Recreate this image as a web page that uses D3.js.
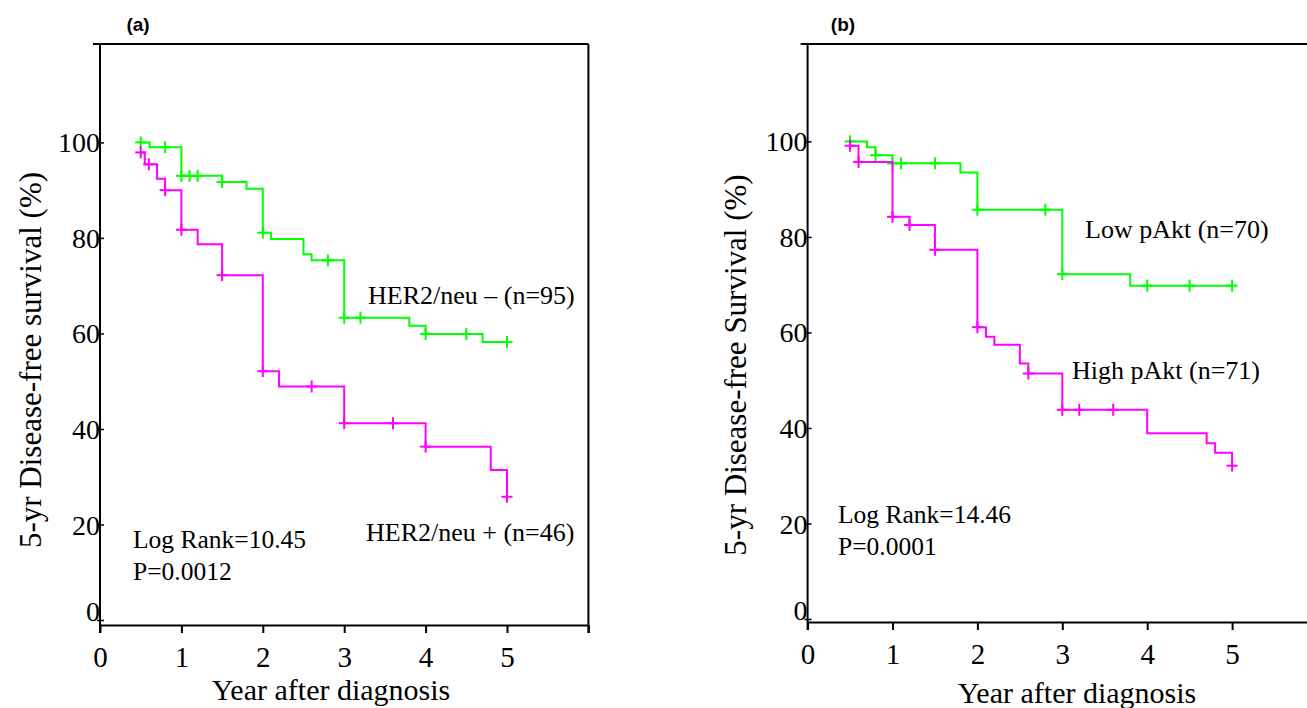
<!DOCTYPE html>
<html>
<head>
<meta charset="utf-8">
<script src="https://cdn.jsdelivr.net/npm/d3@7"></script>
<style>
  html, body { margin: 0; padding: 0; background: #fff; }
  svg { display: block; }
</style>
</head>
<body>
<svg id="chart" width="1307" height="708"></svg>
<script>
// ---------- data ----------
const yearTicks = [0, 1, 2, 3, 4, 5, 6];
const yearLabels = ["0", "1", "2", "3", "4", "5", ""];
const survTicks = [0, 20, 40, 60, 80, 100];

// Panel (a): HER2/neu
const herNegTimes = [0.5, 0.61, 1.0, 1.5, 1.8, 2.0, 2.1, 2.5, 2.6, 3.0, 3.8, 4.0, 4.7, 5.0];
const herNegSurv  = [100, 99.0, 93.0, 91.7, 90.3, 81.1, 79.8, 76.6, 75.3, 63.3, 61.6, 59.9, 58.2, 58.2];
const herNegCens  = [0.5, 0.8, 1.0, 1.1, 1.2, 1.5, 2.0, 2.8, 3.0, 3.2, 4.0, 4.5, 5.0];

const herPosTimes = [0.5, 0.55, 0.7, 0.8, 1.0, 1.2, 1.5, 2.0, 2.2, 3.0, 4.0, 4.8, 5.0];
const herPosSurv  = [97.9, 95.4, 92.4, 90.0, 81.7, 78.7, 72.2, 52.1, 48.9, 41.2, 36.3, 31.4, 25.8];
const herPosCens  = [0.5, 0.6, 0.8, 1.0, 1.5, 2.0, 2.6, 3.0, 3.6, 4.0, 5.0];

// Panel (b): pAkt
const lowTimes = [0.5, 0.7, 0.8, 1.0, 1.8, 2.0, 3.0, 3.8, 5.0];
const lowSurv  = [100, 98.8, 97.1, 95.4, 93.5, 85.7, 72.2, 69.8, 69.8];
const lowCens  = [0.5, 0.8, 1.0, 1.1, 1.5, 2.0, 2.8, 3.0, 4.0, 4.5, 5.0];

const highTimes = [0.5, 0.6, 1.0, 1.2, 1.5, 2.0, 2.1, 2.2, 2.5, 2.6, 3.0, 4.0, 4.7, 4.8, 5.0];
const highSurv  = [99.1, 95.7, 84.2, 82.5, 77.3, 61.1, 59.1, 57.4, 53.5, 51.4, 43.8, 38.9, 36.8, 34.8, 32.1];
const highCens  = [0.5, 0.6, 1.0, 1.2, 1.5, 2.0, 2.6, 3.0, 3.2, 3.6, 5.0];

const GREEN = "#00ff00";
const MAGENTA = "#ff00ff";
const SERIF = "'Liberation Serif', 'Times New Roman', serif";
const SANS = "'Liberation Sans', Arial, sans-serif";

const svg = d3.select("#chart");

function survAt(times, surv, t) {
  let v = surv[0];
  for (let i = 0; i < times.length; i++) { if (times[i] <= t + 1e-9) v = surv[i]; }
  return v;
}

function panel(cfg) {
  const x = d3.scaleLinear().domain([0, 6]).range([cfg.x0, cfg.x0 + 6 * cfg.pxYear]);
  const y = d3.scaleLinear().domain([0, 100]).range([cfg.y0, cfg.y0 - 100 * 4.776]);
  const g = svg.append("g");

  // frame
  const topY = 44, bottomY = cfg.axisY;
  const frame = g.append("g").attr("stroke", "#000").attr("stroke-width", 2).attr("fill", "none");
  frame.append("line").attr("x1", x(0)).attr("x2", x(0)).attr("y1", topY).attr("y2", bottomY + 8);
  frame.append("line").attr("x1", x(0) - 7).attr("x2", Math.min(x(6), 1307)).attr("y1", topY).attr("y2", topY);
  if (cfg.rightBorder) frame.append("line").attr("x1", x(6)).attr("x2", x(6)).attr("y1", topY).attr("y2", bottomY + 8);

  // x axis
  const xAxis = d3.axisBottom(x).tickValues(yearTicks)
    .tickFormat((d, i) => yearLabels[i]).tickSizeInner(8).tickSizeOuter(0).tickPadding(13);
  const xg = g.append("g").attr("transform", `translate(0,${bottomY})`).call(xAxis);
  xg.select(".domain").attr("stroke-width", 2);
  xg.selectAll(".tick line").attr("stroke-width", 2);
  xg.selectAll("text").attr("font-family", SERIF).attr("font-size", 29).attr("fill", "#000")
    .attr("dy", "0.71em");

  // y axis
  const yAxis = d3.axisLeft(y).tickValues(survTicks).tickSizeInner(-4).tickSizeOuter(0).tickPadding(0);
  const yg = g.append("g").attr("transform", `translate(${x(0)},0)`).call(yAxis);
  yg.select(".domain").remove();
  yg.selectAll(".tick line").attr("stroke-width", 1.5).attr("x1", -3);
  yg.selectAll("text").attr("font-family", SERIF).attr("font-size", 28).attr("fill", "#000")
    .attr("dy", d => d === 0 ? "-0.0em" : "0.34em");

  // curves
  const line = d3.line().x(d => x(d[0])).y(d => y(d[1])).curve(d3.curveStepAfter);
  cfg.series.forEach(s => {
    const pts = s.times.map((t, i) => [t, s.surv[i]]);
    g.append("path").datum(pts).attr("d", line).attr("fill", "none")
      .attr("stroke", s.color).attr("stroke-width", 2);
    const cg = g.append("g").attr("stroke", s.color).attr("stroke-width", 2);
    s.cens.forEach(t => {
      const cx = x(t), cy = y(survAt(s.times, s.surv, t));
      cg.append("line").attr("x1", cx).attr("x2", cx).attr("y1", cy - 6).attr("y2", cy + 6);
      cg.append("line").attr("x1", cx - 5.5).attr("x2", cx + 5.5).attr("y1", cy).attr("y2", cy);
    });
  });

  // texts
  cfg.texts.forEach(t => {
    g.append("text").attr("x", t.x).attr("y", t.y).text(t.s)
      .attr("font-family", t.family || SERIF).attr("font-size", t.size)
      .attr("font-weight", t.weight || "normal")
      .attr("text-anchor", t.anchor || "start").attr("fill", "#000");
  });

  // axis titles
  g.append("text").attr("x", cfg.xTitle[0]).attr("y", cfg.xTitle[1]).text("Year after diagnosis")
    .attr("font-family", SERIF).attr("font-size", 30).attr("text-anchor", "middle");
  g.append("text").attr("transform", `translate(${cfg.yTitle[0]},${cfg.yTitle[1]}) rotate(-90)`)
    .text(cfg.yTitleText).attr("font-family", SERIF).attr("font-size", 31)
    .attr("text-anchor", "middle").attr("dy", "0.35em");
}

panel({
  x0: 100, pxYear: 81.4, y0: 620, axisY: 625, rightBorder: true,
  xTitle: [331, 700], yTitle: [30, 360],
  yTitleText: "5-yr Disease-free survival (%)",
  series: [
    { times: herNegTimes, surv: herNegSurv, cens: herNegCens, color: GREEN },
    { times: herPosTimes, surv: herPosSurv, cens: herPosCens, color: MAGENTA }
  ],
  texts: [
    { s: "(a)", x: 138, y: 31, size: 19, family: SANS, weight: "bold", anchor: "middle" },
    { s: "HER2/neu \u2013 (n=95)", x: 368, y: 304, size: 26 },
    { s: "HER2/neu + (n=46)", x: 366, y: 541, size: 26 },
    { s: "Log Rank=10.45", x: 133, y: 548, size: 25.5 },
    { s: "P=0.0012", x: 133, y: 580, size: 25.5 }
  ]
});

panel({
  x0: 807.6, pxYear: 84.9, y0: 619, axisY: 622, rightBorder: false,
  xTitle: [1077, 703], yTitle: [735, 365],
  yTitleText: "5-yr Disease-free Survival (%)",
  series: [
    { times: lowTimes, surv: lowSurv, cens: lowCens, color: GREEN },
    { times: highTimes, surv: highSurv, cens: highCens, color: MAGENTA }
  ],
  texts: [
    { s: "(b)", x: 843, y: 31, size: 19, family: SANS, weight: "bold", anchor: "middle" },
    { s: "Low pAkt (n=70)", x: 1085, y: 238, size: 26 },
    { s: "High pAkt (n=71)", x: 1072, y: 379, size: 26 },
    { s: "Log Rank=14.46", x: 838, y: 523, size: 25.5 },
    { s: "P=0.0001", x: 838, y: 555, size: 25.5 }
  ]
});
</script>
</body>
</html>
